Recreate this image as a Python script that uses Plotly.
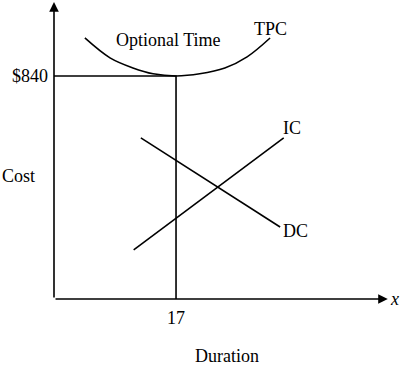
import plotly.graph_objects as go

# ---- data (duration in days, cost in $) ----
tpc_duration = [4.3, 7.8, 11.0, 13.8, 17.0, 20.3, 23.8, 26.9, 30.1]
tpc_cost = [983, 908, 870, 848, 840, 848, 870, 912, 983]

ic_duration = [11.1, 32.0]
ic_cost = [185, 607]

dc_duration = [12.1, 31.5]
dc_cost = [607, 271]

optimal_duration = 17
optimal_cost = 840

x_ticks = [17]
x_tick_labels = ["17"]
y_ticks = [840]
y_tick_labels = ["$840"]

FONT = "Liberation Serif"
TXT = dict(family=FONT, size=18, color="black")
LINE = dict(color="black", width=1.6)

fig = go.Figure()
fig.add_trace(go.Scatter(x=tpc_duration, y=tpc_cost, mode="lines",
                         line=dict(shape="spline", **LINE), hoverinfo="skip"))
fig.add_trace(go.Scatter(x=ic_duration, y=ic_cost, mode="lines", line=LINE, hoverinfo="skip"))
fig.add_trace(go.Scatter(x=dc_duration, y=dc_cost, mode="lines", line=LINE, hoverinfo="skip"))
fig.add_trace(go.Scatter(x=[0, optimal_duration, optimal_duration],
                         y=[optimal_cost, optimal_cost, 0],
                         mode="lines", line=LINE, hoverinfo="skip"))

x_max = 48.2
y_max = 1126

annotations = [
    # axes arrows
    dict(x=46.5, y=0, ax=0, ay=0, xref="x", yref="y", axref="x", ayref="y",
         showarrow=True, arrowhead=2, arrowsize=1.2, arrowwidth=1.6, arrowcolor="black", text=""),
    dict(x=0, y=1118, ax=0, ay=0, xref="x", yref="y", axref="x", ayref="y",
         showarrow=True, arrowhead=2, arrowsize=1.2, arrowwidth=1.6, arrowcolor="black", text=""),
    dict(x=47.5, y=0, xref="x", yref="paper", text="<i>x</i>", showarrow=False,
         xanchor="center", yanchor="middle", font=TXT),
    dict(x=15.9, y=976, text="Optional Time", showarrow=False, font=TXT),
    dict(x=30.2, y=1017, text="TPC", showarrow=False, font=TXT),
    dict(x=33.1, y=644, text="IC", showarrow=False, font=TXT),
    dict(x=33.6, y=256, text="DC", showarrow=False, font=TXT),
    dict(x=-0.104, y=463, xref="paper", yref="y", text="Cost", showarrow=False,
         xanchor="center", yanchor="middle", font=TXT),
]

fig.update_layout(
    width=400, height=370,
    margin=dict(l=54, r=0, t=0, b=71),
    paper_bgcolor="white", plot_bgcolor="white",
    showlegend=False,
    font=TXT,
    annotations=annotations,
    xaxis=dict(range=[0, x_max], showgrid=False, zeroline=False, showline=False,
               tickvals=x_ticks, ticktext=x_tick_labels, ticks="",
               ticklabelstandoff=6, tickfont=TXT,
               title=dict(text="Duration", standoff=22, font=TXT),
               fixedrange=True),
    yaxis=dict(range=[0, y_max], showgrid=False, zeroline=False, showline=False,
               tickvals=y_ticks, ticktext=y_tick_labels, ticks="", tickfont=TXT,
               ticklabelstandoff=5, fixedrange=True),
)

fig.write_html("out.html")
